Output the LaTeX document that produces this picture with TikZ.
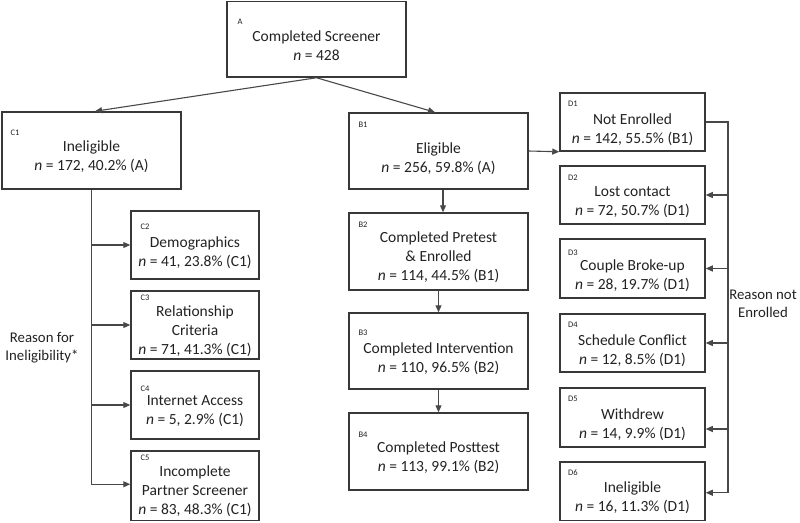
\documentclass[tikz,border=0pt]{standalone}
\usepackage{fontspec}
\setmainfont{Carlito}
\usetikzlibrary{arrows.meta}
\definecolor{boxline}{HTML}{383838}
\definecolor{connline}{HTML}{484848}
\definecolor{txtcol}{HTML}{222222}
\tikzset{
  box/.style={draw=boxline, line width=1.5pt, rectangle, inner sep=0pt},
  txt/.style={align=center, text=txtcol, font=\fontsize{15.5}{19}\selectfont, inner sep=0pt},
  rsn/.style={align=center, text=txtcol, font=\fontsize{14.8}{18}\selectfont, inner sep=0pt},
  lbl/.style={text=txtcol, font=\fontsize{8.5}{9}\selectfont, inner sep=0pt},
  conn/.style={draw=connline, line width=1.1pt},
  arr/.style={conn, -{Triangle[length=7pt,width=6pt]}}
}
\newcommand\mybox[5]{\node[box,minimum width={#4pt-#2pt},minimum height={#5pt-#3pt}] (#1) at ({(#2+#4)/2},{(#3+#5)/2}) {};}
\begin{document}
\begin{tikzpicture}[x=1pt,y=-1pt]
\useasboundingbox (0,0) rectangle (800,522);
% boxes
\mybox{A}{227}{1.5}{406}{77}
\mybox{C1}{2}{112}{181}{189}
\mybox{B1}{349}{113}{528}{189}
\mybox{B2}{349}{213}{528}{290}
\mybox{B3}{349}{313}{528}{389}
\mybox{B4}{349}{413}{528}{490}
\mybox{C2}{131}{211}{259}{279}
\mybox{C3}{131}{291}{259}{359}
\mybox{C4}{131}{371}{259}{439}
\mybox{C5}{131}{451}{259}{520.5}
\mybox{D1}{560}{93}{705}{151}
\mybox{D2}{560}{166}{705}{224}
\mybox{D3}{560}{239}{705}{298}
\mybox{D4}{560}{314}{705}{372}
\mybox{D5}{560}{388}{705}{447}
\mybox{D6}{560}{462}{705}{520.5}
% texts
\node[txt] (tA) at (316.5,46) {Completed Screener\\\textit{n} = 428};
\node[txt] (tC1) at (91.5,157) {Ineligible\\\textit{n} = 172, 40.2\% (A)};
\node[txt] (tB1) at (438.5,159) {Eligible\\\textit{n} = 256, 59.8\% (A)};
\node[txt] (tB2) at (438.5,257) {Completed Pretest\\\& Enrolled\\\textit{n} = 114, 44.5\% (B1)};
\node[txt] (tB3) at (438.5,359) {Completed Intervention\\\textit{n} = 110, 96.5\% (B2)};
\node[txt] (tB4) at (438.5,457.5) {Completed Posttest\\\textit{n} = 113, 99.1\% (B2)};
\node[txt] (tC2) at (195,252.5) {Demographics\\\textit{n} = 41, 23.8\% (C1)};
\node[txt] (tC3) at (195,331.5) {Relationship\\Criteria\\\textit{n} = 71, 41.3\% (C1)};
\node[txt] (tC4) at (195,411) {Internet Access\\\textit{n} = 5, 2.9\% (C1)};
\node[txt] (tC5) at (195,491.5) {Incomplete\\Partner Screener\\\textit{n} = 83, 48.3\% (C1)};
\node[txt] (tD1) at (632.5,130) {Not Enrolled\\\textit{n} = 142, 55.5\% (B1)};
\node[txt] (tD2) at (632.5,202.5) {Lost contact\\\textit{n} = 72, 50.7\% (D1)};
\node[txt] (tD3) at (632.5,276) {Couple Broke-up\\\textit{n} = 28, 19.7\% (D1)};
\node[txt] (tD4) at (632.5,351) {Schedule Conflict\\\textit{n} = 12, 8.5\% (D1)};
\node[txt] (tD5) at (632.5,424.5) {Withdrew\\\textit{n} = 14, 9.9\% (D1)};
\node[txt] (tD6) at (632.5,498) {Ineligible\\\textit{n} = 16, 11.3\% (D1)};
% small labels
\node[lbl] (lA) at (240,22) {A};
\node[lbl] (lC1) at (15,133) {C1};
\node[lbl] (lB1) at (363,125) {B1};
\node[lbl] (lB2) at (363,225) {B2};
\node[lbl] (lB3) at (363,333) {B3};
\node[lbl] (lB4) at (363,435) {B4};
\node[lbl] (lC2) at (145,227) {C2};
\node[lbl] (lC3) at (145,298) {C3};
\node[lbl] (lC4) at (145,389) {C4};
\node[lbl] (lC5) at (145,458) {C5};
\node[lbl] (lD1) at (573,104) {D1};
\node[lbl] (lD2) at (573,178) {D2};
\node[lbl] (lD3) at (573,253) {D3};
\node[lbl] (lD4) at (573,325) {D4};
\node[lbl] (lD5) at (573,399) {D5};
\node[lbl] (lD6) at (573,473) {D6};
% reason labels
\node[rsn] (rC) at (42,347.5) {Reason for\\Ineligibility*};
\node[rsn] (rD) at (763,303.5) {Reason not\\Enrolled};
% connectors
\draw[arr] (A.south) -- ([xshift=3.5pt]C1.north);
\draw[arr] (A.south) -- ([xshift=-3.5pt]B1.north);
\draw[arr] (B1.east) -- (D1.south west);
\draw[arr] ([xshift=4.5pt]B1.south) -- ([xshift=4.5pt]B2.north);
\draw[arr] (B2.south) -- (B3.north);
\draw[arr] (B3.south) -- (B4.north);
% C trunk
\coordinate (c5a) at ([yshift=1.5pt]C5.west);
\draw[arr] (C1.south) |- (c5a);
\draw[arr] (C1.south |- C2.west) -- (C2.west);
\draw[arr] (C1.south |- C3.west) -- (C3.west);
\draw[arr] (C1.south |- C4.west) -- (C4.west);
% D trunk
\coordinate (dbus) at (728,0);
\coordinate (d5a) at ([yshift=-11.5pt]D5.east);
\coordinate (d6a) at ([yshift=-1.5pt]D6.east);
\draw[arr] (D1.east) -- (D1.east -| dbus) -- (dbus |- d6a) -- (d6a);
\draw[arr] (dbus |- D2.east) -- (D2.east);
\draw[arr] (dbus |- D3.east) -- (D3.east);
\draw[arr] (dbus |- D4.east) -- (D4.east);
\draw[arr] (dbus |- d5a) -- (d5a);
\end{tikzpicture}
\end{document}
